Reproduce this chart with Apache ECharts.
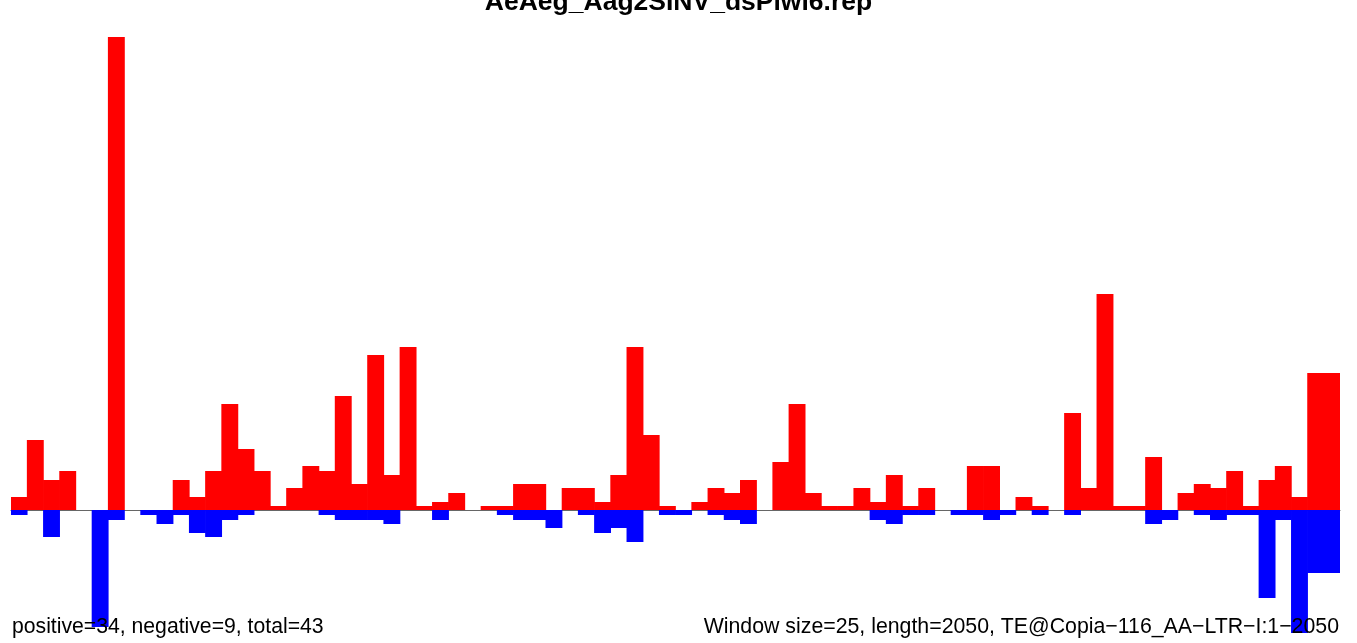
<!DOCTYPE html>
<html>
<head>
<meta charset="utf-8">
<script src="https://cdn.jsdelivr.net/npm/echarts@6/dist/echarts.min.js"></script>
<style>
html,body{margin:0;padding:0;background:#fff;}
#chart{width:1357px;height:643px;}
</style>
</head>
<body>
<div id="chart"></div>
<script>
// Data (heights, arbitrary units)
const windowSize = 25;
const seqLength = 2050;
const binStarts = Array.from({length: seqLength / windowSize}, (_, i) => String(i * windowSize + 1));

const positiveStrand = [
  13, 70, 30, 39, 0, 0, 473, 0, 0, 0,
  30, 13, 39, 106, 61, 39, 4, 22, 44, 39,
  114, 26, 155, 35, 163, 4, 8, 17, 0, 4,
  4, 26, 26, 0, 22, 22, 8, 35, 163, 75,
  4, 0, 8, 22, 17, 30, 0, 48, 106, 17,
  4, 4, 22, 8, 35, 4, 22, 0, 0, 44,
  44, 0, 13, 4, 0, 97, 22, 216, 4, 4,
  53, 0, 17, 26, 22, 39, 4, 30, 44, 13,
  137, 137
];

const negativeStrand = [
  -5, 0, -27, 0, 0, -117, -10, 0, -5, -14,
  -5, -23, -27, -10, -5, 0, 0, 0, 0, -5,
  -10, -10, -10, -14, 0, 0, -10, 0, 0, 0,
  -5, -10, -10, -18, 0, -5, -23, -18, -32, 0,
  -5, -5, 0, -5, -10, -14, 0, 0, 0, 0,
  0, 0, 0, -10, -14, -5, -5, 0, -5, -5,
  -10, -5, 0, -5, 0, -5, 0, 0, 0, 0,
  -14, -10, 0, -5, -10, -5, -5, -88, -10, -123,
  -63, -63
];

const titleText = 'AeAeg_Aag2SINV_dsPiwi6.rep';
const leftNote = 'positive=34, negative=9, total=43';
const rightNote = 'Window size=25, length=2050, TE@Copia\u2212116_AA\u2212LTR\u2212I:1\u22122050';

const chart = echarts.init(document.getElementById('chart'), null, {renderer: 'canvas'});
const font = '"Liberation Sans", Arial, Helvetica, sans-serif';
chart.setOption({
  animation: false,
  backgroundColor: '#ffffff',
  grid: {left: 11, right: 17, top: 37, bottom: 0},
  xAxis: {
    type: 'category',
    data: binStarts,
    boundaryGap: true,
    axisLine: {show: true, onZero: true, lineStyle: {color: '#666666', width: 1}},
    axisTick: {show: false},
    axisLabel: {show: false},
    splitLine: {show: false}
  },
  yAxis: {
    type: 'value',
    min: -133,
    max: 473,
    show: false,
    splitLine: {show: false}
  },
  series: [
    {
      type: 'bar',
      data: positiveStrand,
      barWidth: 16.9,
      barGap: '-100%',
      itemStyle: {color: '#ff0000'},
      z: 3
    },
    {
      type: 'bar',
      data: negativeStrand,
      barWidth: 16.9,
      barGap: '-100%',
      itemStyle: {color: '#0000ff'},
      z: 2
    }
  ],
  graphic: [
    {
      type: 'text', left: 'center', top: -11, z: 10,
      style: {text: titleText, font: 'bold 26.5px ' + font, fill: '#000'}
    },
    {
      type: 'text', x: 12, y: 627.5, z: 10,
      style: {text: leftNote, font: '21.2px ' + font, fill: '#000', textAlign: 'left', textVerticalAlign: 'middle'}
    },
    {
      type: 'text', x: 1339, y: 627.5, z: 10,
      style: {text: rightNote, font: '21.3px ' + font, fill: '#000', textAlign: 'right', textVerticalAlign: 'middle'}
    }
  ]
});
</script>
</body>
</html>
